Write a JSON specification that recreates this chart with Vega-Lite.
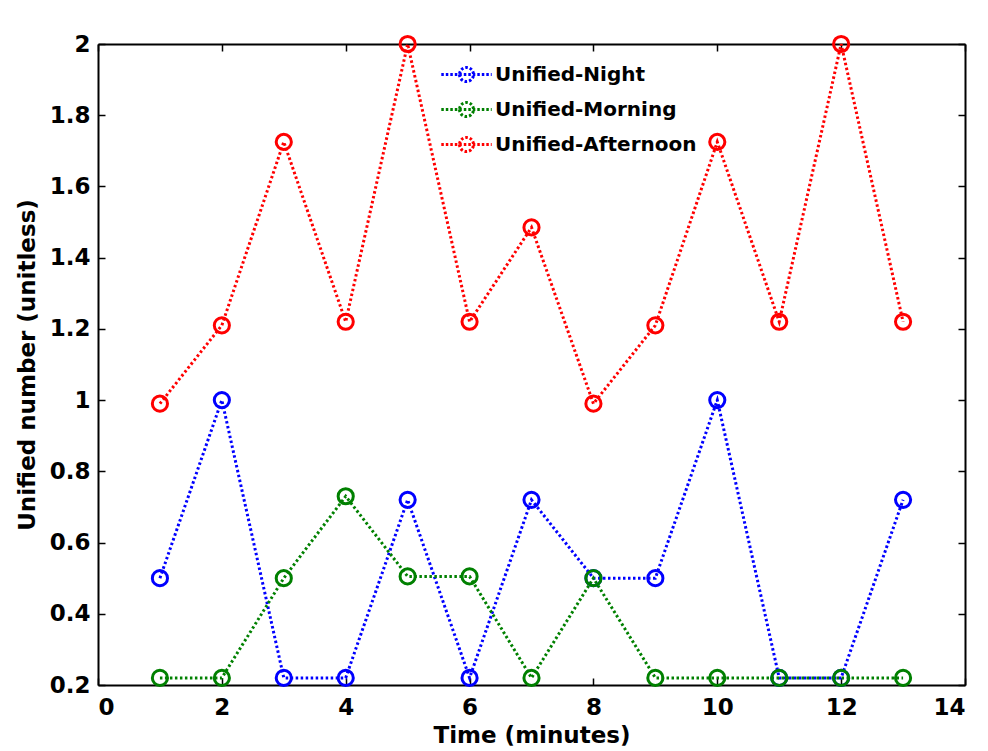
{
  "$schema": "https://vega.github.io/schema/vega-lite/v6.json",
  "width": 867,
  "height": 641,
  "autosize": "none",
  "padding": {"left": 98, "top": 44, "right": 23, "bottom": 66},
  "background": "white",
  "config": {
    "view": {"stroke": null},
    "font": "DejaVu Sans",
    "axis": {
      "grid": false,
      "domainColor": "black",
      "domainWidth": 2,
      "tickColor": "black",
      "tickWidth": 1.5,
      "tickSize": -7,
      "labelFont": "DejaVu Sans",
      "labelFontWeight": "bold",
      "labelFontSize": 23,
      "labelColor": "black",
      "titleFont": "DejaVu Sans",
      "titleFontWeight": "bold",
      "titleFontSize": 23,
      "titleColor": "black"
    },
    "legend": {
      "orient": "none",
      "legendX": 353,
      "legendY": 15,
      "padding": 0,
      "title": null,
      "symbolType": "M-1.8,0H1.8M-0.5,0A0.5,0.5 0 1,0 0.5,0A0.5,0.5 0 1,0 -0.5,0",
      "symbolSize": 784,
      "symbolStrokeWidth": 3,
      "symbolFillColor": "transparent",
      "symbolDash": [2.5, 2],
      "labelFont": "DejaVu Sans",
      "labelFontWeight": "bold",
      "labelFontSize": 20,
      "labelColor": "black",
      "labelOffset": 13,
      "rowPadding": 6,
      "labelLimit": 400
    }
  },
  "data": {
    "values": [
      {"t": 1, "series": "Unified-Night", "v": 0.5},
      {"t": 2, "series": "Unified-Night", "v": 1.0},
      {"t": 3, "series": "Unified-Night", "v": 0.22},
      {"t": 4, "series": "Unified-Night", "v": 0.22},
      {"t": 5, "series": "Unified-Night", "v": 0.72},
      {"t": 6, "series": "Unified-Night", "v": 0.22},
      {"t": 7, "series": "Unified-Night", "v": 0.72},
      {"t": 8, "series": "Unified-Night", "v": 0.5},
      {"t": 9, "series": "Unified-Night", "v": 0.5},
      {"t": 10, "series": "Unified-Night", "v": 1.0},
      {"t": 11, "series": "Unified-Night", "v": 0.22},
      {"t": 12, "series": "Unified-Night", "v": 0.22},
      {"t": 13, "series": "Unified-Night", "v": 0.72},
      {"t": 1, "series": "Unified-Morning", "v": 0.22},
      {"t": 2, "series": "Unified-Morning", "v": 0.22},
      {"t": 3, "series": "Unified-Morning", "v": 0.5},
      {"t": 4, "series": "Unified-Morning", "v": 0.73},
      {"t": 5, "series": "Unified-Morning", "v": 0.505},
      {"t": 6, "series": "Unified-Morning", "v": 0.505},
      {"t": 7, "series": "Unified-Morning", "v": 0.22},
      {"t": 8, "series": "Unified-Morning", "v": 0.5},
      {"t": 9, "series": "Unified-Morning", "v": 0.22},
      {"t": 10, "series": "Unified-Morning", "v": 0.22},
      {"t": 11, "series": "Unified-Morning", "v": 0.22},
      {"t": 12, "series": "Unified-Morning", "v": 0.22},
      {"t": 13, "series": "Unified-Morning", "v": 0.22},
      {"t": 1, "series": "Unified-Afternoon", "v": 0.99},
      {"t": 2, "series": "Unified-Afternoon", "v": 1.21},
      {"t": 3, "series": "Unified-Afternoon", "v": 1.725},
      {"t": 4, "series": "Unified-Afternoon", "v": 1.22},
      {"t": 5, "series": "Unified-Afternoon", "v": 2.0},
      {"t": 6, "series": "Unified-Afternoon", "v": 1.22},
      {"t": 7, "series": "Unified-Afternoon", "v": 1.485},
      {"t": 8, "series": "Unified-Afternoon", "v": 0.99},
      {"t": 9, "series": "Unified-Afternoon", "v": 1.21},
      {"t": 10, "series": "Unified-Afternoon", "v": 1.725},
      {"t": 11, "series": "Unified-Afternoon", "v": 1.22},
      {"t": 12, "series": "Unified-Afternoon", "v": 2.0},
      {"t": 13, "series": "Unified-Afternoon", "v": 1.22}
    ]
  },
  "encoding": {
    "color": {
      "field": "series",
      "type": "nominal",
      "scale": {
        "domain": ["Unified-Night", "Unified-Morning", "Unified-Afternoon"],
        "range": ["#0000ff", "#008000", "#ff0000"]
      }
    }
  },
  "layer": [
    {
      "mark": {"type": "line", "strokeWidth": 3, "strokeDash": [2.5, 2.5], "clip": false},
      "encoding": {
        "x": {
          "field": "t", "type": "quantitative",
          "scale": {"domain": [0, 14], "nice": false, "zero": false},
          "axis": {"values": [0, 2, 4, 6, 8, 10, 12, 14], "title": "Time (minutes)", "labelPadding": 18, "titlePadding": 5}
        },
        "y": {
          "field": "v", "type": "quantitative",
          "scale": {"domain": [0.2, 2], "nice": false, "zero": false},
          "axis": {"values": [0.2, 0.4, 0.6, 0.8, 1, 1.2, 1.4, 1.6, 1.8, 2], "format": "~g", "title": "Unified number (unitless)", "labelPadding": 15, "titlePadding": 10}
        }
      }
    },
    {
      "mark": {"type": "point", "filled": false, "size": 230, "strokeWidth": 3, "opacity": 1, "clip": false},
      "encoding": {
        "x": {
          "field": "t", "type": "quantitative",
          "scale": {"domain": [0, 14], "nice": false, "zero": false},
          "axis": {"orient": "top", "values": [0, 2, 4, 6, 8, 10, 12, 14], "labels": false, "title": null}
        },
        "y": {
          "field": "v", "type": "quantitative",
          "scale": {"domain": [0.2, 2], "nice": false, "zero": false},
          "axis": {"orient": "right", "values": [0.2, 0.4, 0.6, 0.8, 1, 1.2, 1.4, 1.6, 1.8, 2], "labels": false, "title": null}
        }
      }
    }
  ],
  "resolve": {"axis": {"x": "independent", "y": "independent"}}
}
